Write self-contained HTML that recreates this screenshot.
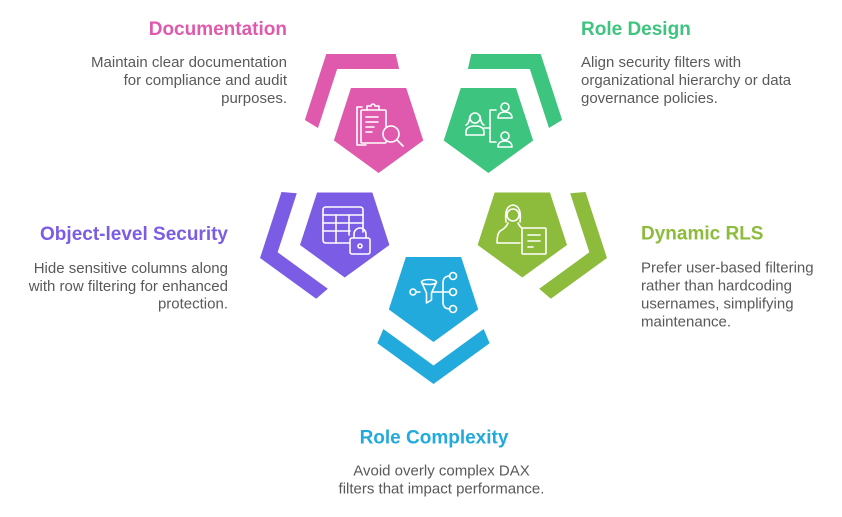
<!DOCTYPE html>
<html>
<head>
<meta charset="utf-8">
<style>
  html, body { margin:0; padding:0; background:#ffffff; }
  body { width:842px; height:517px; overflow:hidden; }
  svg { display:block; }
  .t { font-family:"Liberation Sans", Arial, sans-serif; font-weight:bold; font-size:19px; }
  .b { font-family:"Liberation Sans", Arial, sans-serif; font-size:15px; fill:#595959; }
  .ic { fill:none; stroke:#ffffff; stroke-width:1.6; stroke-linecap:round; stroke-linejoin:round; }
</style>
</head>
<body>
<svg width="842" height="517" viewBox="0 0 842 517" xmlns="http://www.w3.org/2000/svg">
  <rect x="0" y="0" width="842" height="517" fill="#ffffff"/>

  <!-- Pink: Documentation -->
  <polygon fill="#DF5AAC" points="395.69,54 326.29,54 304.85,120.01 318.0,127.94 337.16,68.97 399.16,68.97"/>
  <polygon fill="#DF5AAC" points="378.6,173 333.9,140.52 350.97,87.98 406.23,87.98 423.3,140.52"/>

  <!-- Green: Role Design -->
  <polygon fill="#3DC47E" points="471.31,54 540.71,54 562.15,120.01 549.0,127.94 529.84,68.97 467.84,68.97"/>
  <polygon fill="#3DC47E" points="488.4,173 443.7,140.52 460.77,87.98 516.03,87.98 533.1,140.52"/>

  <!-- Purple: Object-level Security -->
  <polygon fill="#7B5CE5" points="281.49,191.99 260.05,258 316.19,298.79 327.81,288.72 277.65,252.28 296.81,193.31"/>
  <polygon fill="#7B5CE5" points="344.7,277.5 300,245.02 317.07,192.48 372.33,192.48 389.4,245.02"/>

  <!-- Lime: Dynamic RLS -->
  <polygon fill="#8DBB3C" points="585.51,191.99 606.95,258 550.81,298.79 539.19,288.72 589.35,252.28 570.19,193.31"/>
  <polygon fill="#8DBB3C" points="522.3,277.5 477.6,245.02 494.67,192.48 549.93,192.48 567,245.02"/>

  <!-- Blue: Role Complexity -->
  <polygon fill="#22AADC" points="377.36,343.21 433.5,384 489.64,343.21 483.66,329.06 433.5,365.5 383.34,329.06"/>
  <polygon fill="#22AADC" points="433.5,342 388.8,309.52 405.87,256.98 461.13,256.98 478.2,309.52"/>

  <!-- Pink icon: clipboard + magnifier -->
  <g class="ic">
    <path d="M362 107 H357 V145 H366"/>
    <rect x="361" y="110" width="25" height="33" rx="1"/>
    <path d="M367 110 V106 H371 A2 2 0 0 1 375 106 H379 V110"/>
    <line x1="366" y1="117" x2="378" y2="117"/>
    <line x1="366" y1="122" x2="378" y2="122"/>
    <line x1="366" y1="127" x2="374" y2="127"/>
    <line x1="366" y1="132" x2="372" y2="132"/>
    <circle cx="391" cy="134" r="8" fill="#DF5AAC"/>
    <line x1="397" y1="140" x2="403" y2="146"/>
  </g>

  <!-- Green icon: people hierarchy -->
  <g class="ic">
    <circle cx="475" cy="118" r="5"/>
    <path d="M470 116 Q469 124 466 125 M480 116 Q481 124 484 125"/>
    <path d="M466 135 V132 Q466 126 475 126 Q484 126 484 132 V135 Z"/>
    <line x1="484" y1="128" x2="490" y2="128"/>
    <path d="M496 110 H490 V142 H496"/>
    <circle cx="505" cy="107" r="4"/>
    <path d="M498 118 Q498 112 505 112 Q512 112 512 118 Z"/>
    <circle cx="505" cy="136" r="4"/>
    <path d="M498 147 Q498 141 505 141 Q512 141 512 147 Z"/>
  </g>

  <!-- Purple icon: table + lock -->
  <g class="ic">
    <path d="M350 243 H326 Q323 243 323 240 V210 Q323 207 326 207 H360 Q363 207 363 210 V232"/>
    <line x1="323" y1="215" x2="363" y2="215"/>
    <line x1="323" y1="223" x2="363" y2="223"/>
    <line x1="323" y1="231" x2="350" y2="231"/>
    <line x1="336" y1="215" x2="336" y2="243"/>
    <line x1="349" y1="215" x2="349" y2="235"/>
    <path d="M354 238 V234 A6 6 0 0 1 366 234 V238"/>
    <rect x="350" y="238" width="20" height="16" rx="2" fill="#7B5CE5"/>
    <circle cx="360" cy="246" r="2"/>
  </g>

  <!-- Lime icon: person + document -->
  <g class="ic">
    <path d="M506 222 Q504 206 513 205 Q522 206 520 222"/>
    <circle cx="513" cy="215" r="6"/>
    <path d="M508 223 Q506 228 500 231 Q497 234 497 243 H520"/>
    <path d="M518 223 Q520 227 522 228"/>
    <rect x="522" y="228" width="24" height="26" rx="1"/>
    <line x1="528" y1="235" x2="540" y2="235"/>
    <line x1="528" y1="241" x2="540" y2="241"/>
    <line x1="528" y1="247" x2="533" y2="247"/>
  </g>

  <!-- Blue icon: funnel + tree -->
  <g class="ic">
    <circle cx="413" cy="292" r="3"/>
    <line x1="416" y1="292" x2="420" y2="292"/>
    <ellipse cx="429" cy="282" rx="7.5" ry="2.5"/>
    <path d="M421.5 282 L426.5 293 V303 L431.5 300 V293 L436.5 282"/>
    <line x1="432" y1="292" x2="443" y2="292"/>
    <path d="M450 276 Q443 276 443 283 V302 Q443 309 450 309"/>
    <line x1="443" y1="292" x2="450" y2="292"/>
    <circle cx="453" cy="276" r="3.5"/>
    <circle cx="453" cy="292" r="3.5"/>
    <circle cx="453" cy="309" r="3.5"/>
  </g>

  <!-- Texts -->
  <text class="t" x="287" y="35" text-anchor="end" fill="#DF5AAC">Documentation</text>
  <text class="b" x="287" y="67" text-anchor="end">Maintain clear documentation</text>
  <text class="b" x="287" y="85" text-anchor="end">for compliance and audit</text>
  <text class="b" x="287" y="103" text-anchor="end">purposes.</text>

  <text class="t" x="581" y="35" fill="#3DC47E">Role Design</text>
  <text class="b" x="581" y="67">Align security filters with</text>
  <text class="b" x="581" y="85">organizational hierarchy or data</text>
  <text class="b" x="581" y="103">governance policies.</text>

  <text class="t" x="228" y="240" text-anchor="end" fill="#7B5CE5">Object-level Security</text>
  <text class="b" x="228" y="273" text-anchor="end">Hide sensitive columns along</text>
  <text class="b" x="228" y="291" text-anchor="end">with row filtering for enhanced</text>
  <text class="b" x="228" y="308.5" text-anchor="end">protection.</text>

  <text class="t" x="641" y="239.5" fill="#8DBB3C">Dynamic RLS</text>
  <text class="b" x="641" y="272.7">Prefer user-based filtering</text>
  <text class="b" x="641" y="290.5">rather than hardcoding</text>
  <text class="b" x="641" y="308.5">usernames, simplifying</text>
  <text class="b" x="641" y="326.5">maintenance.</text>

  <text class="t" x="434" y="443.5" text-anchor="middle" fill="#22AADC">Role Complexity</text>
  <text class="b" x="441.5" y="475.5" text-anchor="middle">Avoid overly complex DAX</text>
  <text class="b" x="441.5" y="493.5" text-anchor="middle">filters that impact performance.</text>
</svg>
</body>
</html>
